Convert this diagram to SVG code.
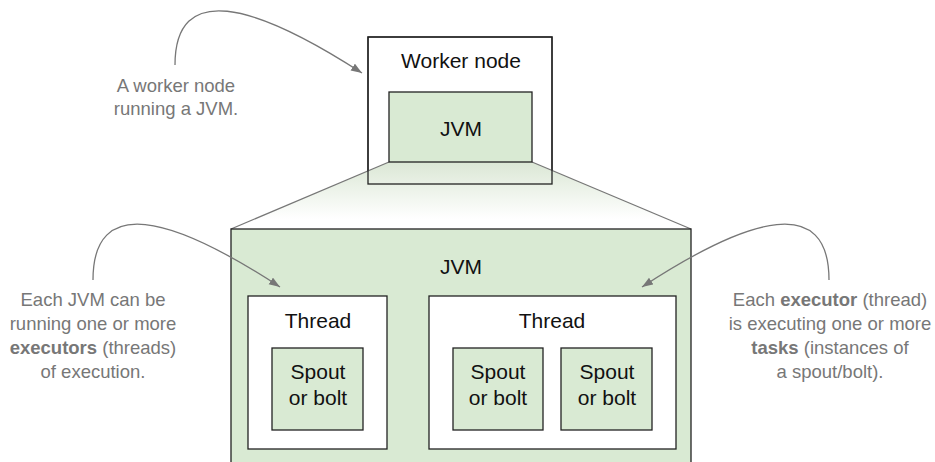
<svg xmlns="http://www.w3.org/2000/svg" width="935" height="462" viewBox="0 0 935 462">
<style>
.box{stroke:#222;stroke-width:1.3}
.green{fill:#d9ead3}
.white{fill:#fff}
.lbl{font-family:"Liberation Sans",Arial,sans-serif;font-size:21px;fill:#111;text-anchor:middle}
.note{font-family:"Liberation Sans",Arial,sans-serif;font-size:18.5px;fill:#777;text-anchor:middle}
.note .b{font-weight:bold}
.conn{fill:none;stroke:#777;stroke-width:1.3}
</style>
<defs>
<linearGradient id="fade" x1="0" y1="0" x2="0" y2="1">
<stop offset="0" stop-color="#dbe7d5"/>
<stop offset="0.85" stop-color="#ffffff"/>
<stop offset="1" stop-color="#ffffff"/>
</linearGradient>
<marker id="arr" markerWidth="12" markerHeight="10" refX="11" refY="4" orient="auto" markerUnits="userSpaceOnUse">
<path d="M0,0 L11,4 L0,8 Z" fill="#777"/>
</marker>
</defs>
<rect width="935" height="462" fill="#fff"/>
<g id="worker-node">
<rect class="box white" x="368" y="37" width="184" height="147"/>
<text class="lbl" x="461" y="68">Worker node</text>
</g>
<g id="zoom-projection">
<polygon points="389,162 532,162 691,229 231,229" fill="url(#fade)"/>
<line x1="389" y1="162" x2="231" y2="229" stroke="#777" stroke-width="1.3"/>
<line x1="532" y1="162" x2="691" y2="229" stroke="#777" stroke-width="1.3"/>
<rect class="box" x="368" y="37" width="184" height="147" fill="none"/>
</g>
<g id="jvm-small">
<rect class="box green" x="389" y="92" width="143" height="70"/>
<text class="lbl" x="461" y="136">JVM</text>
</g>
<g id="jvm-big">
<rect class="box green" x="231" y="229" width="460" height="250"/>
<text class="lbl" x="461" y="274">JVM</text>
</g>
<g id="thread-1">
<rect class="box white" x="248" y="296" width="139" height="153"/>
<text class="lbl" x="318" y="328">Thread</text>
</g>
<g id="thread-2">
<rect class="box white" x="429" y="296" width="247" height="153"/>
<text class="lbl" x="552" y="328">Thread</text>
</g>
<g id="task-1">
<rect class="box green" x="272" y="348" width="91" height="82"/>
<text class="lbl" x="318" y="379">Spout</text>
<text class="lbl" x="318" y="405">or bolt</text>
</g>
<g id="task-2">
<rect class="box green" x="453" y="348" width="90" height="82"/>
<text class="lbl" x="498" y="379">Spout</text>
<text class="lbl" x="498" y="405">or bolt</text>
</g>
<g id="task-3">
<rect class="box green" x="561" y="348" width="91" height="82"/>
<text class="lbl" x="607" y="379">Spout</text>
<text class="lbl" x="607" y="405">or bolt</text>
</g>
<g id="note-worker">
<text class="note" x="176" y="92">A worker node</text>
<text class="note" x="176" y="115">running a JVM.</text>
</g>
<g id="note-executors">
<text class="note" x="93" y="306">Each JVM can be</text>
<text class="note" x="93" y="330">running one or more</text>
<text class="note" x="93" y="354"><tspan class="b">executors</tspan> (threads)</text>
<text class="note" x="93" y="378">of execution.</text>
</g>
<g id="note-tasks">
<text class="note" x="830" y="306">Each <tspan class="b">executor</tspan> (thread)</text>
<text class="note" x="830" y="330">is executing one or more</text>
<text class="note" x="830" y="354"><tspan class="b">tasks</tspan> (instances of</text>
<text class="note" x="830" y="378">a spout/bolt).</text>
</g>
<g id="connectors">
<path class="conn" marker-end="url(#arr)" d="M175,65 C175,-18 252,2 362,73"/>
<path class="conn" marker-end="url(#arr)" d="M93,280 C93,195 170,215 280,287"/>
<path class="conn" marker-end="url(#arr)" d="M829,280 C829,195 752,215 642,287"/>
</g>
</svg>
